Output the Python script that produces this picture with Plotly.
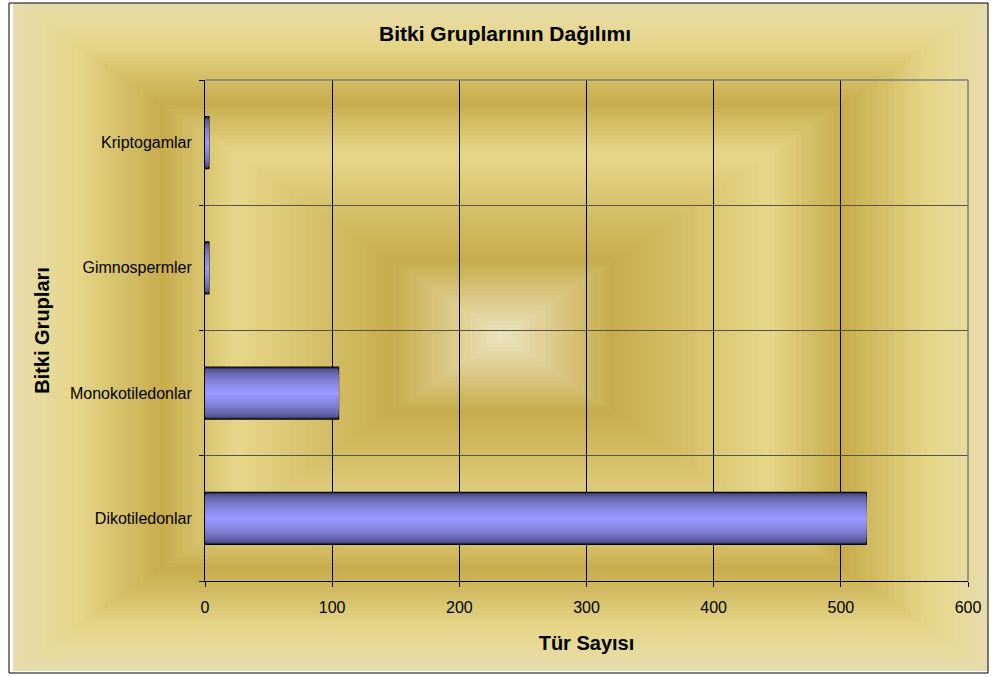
import plotly.graph_objects as go

# data
groups = ["Dikotiledonlar", "Monokotiledonlar", "Gimnospermler", "Kriptogamlar"]
species_counts = [520, 105, 3, 3]
x_ticks = [0, 100, 200, 300, 400, 500, 600]

W, H = 992, 677
L, R, T, B = 205, 24, 80, 96
PW, PH = W - L - R, H - T - B

FONT = "Liberation Sans, Arial, sans-serif"


def hex_rgb(h):
    h = h.lstrip("#")
    return tuple(int(h[i:i + 2], 16) for i in (0, 2, 4))


def blend(stops, f):
    # stops: list of (pos, hex) sorted by pos
    for (p0, c0), (p1, c1) in zip(stops, stops[1:]):
        if p0 <= f <= p1:
            k = 0 if p1 == p0 else (f - p0) / (p1 - p0)
            a, b = hex_rgb(c0), hex_rgb(c1)
            return "rgb(%d,%d,%d)" % tuple(round(a[i] + (b[i] - a[i]) * k) for i in range(3))
    return "rgb(%d,%d,%d)" % hex_rgb(stops[-1][1])


def px_x(px):
    return (px - L) / PW


def px_y(py):
    return (H - B - py) / PH


# Excel "Gold" preset, rectangular from center (0 = center, 1 = edge)
gold = [(0.0, "#EEE6C4"), (0.23, "#C7AC4C"), (0.55, "#E6D78A"),
        (0.70, "#C7AC4C"), (0.88, "#E6D78A"), (1.0, "#E6DCAC")]

fx0, fy0, fx1, fy1 = 9, 3, 988, 673
cx, cy = (fx0 + fx1) / 2 + 4, (fy0 + fy1) / 2 - 2
hw, hh = (fx1 - fx0) / 2, (fy1 - fy0) / 2

shapes = []
n_rings = 90
for k in range(n_rings):
    f = 1 - k / n_rings
    x0, x1 = max(cx - hw * f, fx0), min(cx + hw * f, fx1)
    y0, y1 = max(cy - hh * f, fy0), min(cy + hh * f, fy1)
    shapes.append(dict(type="rect", xref="paper", yref="paper", layer="below",
                       x0=px_x(x0), x1=px_x(x1), y0=px_y(y1), y1=px_y(y0),
                       fillcolor=blend(gold, f), line=dict(width=0)))
# chart frame
shapes.append(dict(type="rect", xref="paper", yref="paper", layer="above",
                   x0=px_x(fx0), x1=px_x(fx1), y0=px_y(fy1), y1=px_y(fy0),
                   line=dict(color="#000000", width=1), fillcolor="rgba(0,0,0,0)"))
# plot area border (top and right, grey)
shapes.append(dict(type="line", xref="paper", yref="paper", layer="above",
                   x0=0, x1=1, y0=1, y1=1, line=dict(color="#808080", width=1.5)))
shapes.append(dict(type="line", xref="paper", yref="paper", layer="above",
                   x0=1, x1=1, y0=0, y1=1, line=dict(color="#808080", width=1.5)))

fig = go.Figure()

# bars with a horizontal shading: stacked overlays, dark edge -> light middle
bar_w = 0.415
dark, light = hex_rgb("#3A3A68"), hex_rgb("#9999FF")
n_layers = 14
for j in range(n_layers):
    s = j / (n_layers - 1)
    k = s ** 0.5
    col = "rgb(%d,%d,%d)" % tuple(round(dark[i] + (light[i] - dark[i]) * k) for i in range(3))
    fig.add_bar(y=groups, x=species_counts, orientation="h",
                width=bar_w * (1 - s * 0.93),
                marker=dict(color=col,
                            line=dict(color="#000000", width=1.3 if j == 0 else 0)),
                showlegend=False, hoverinfo="x+y")

fig.update_layout(
    width=W, height=H,
    margin=dict(l=L, r=R, t=T, b=B),
    paper_bgcolor="white",
    plot_bgcolor="rgba(0,0,0,0)",
    barmode="overlay",
    shapes=shapes,
    font=dict(family=FONT, color="#000000", size=16),
    title=dict(text="Bitki Gruplarının Dağılımı", x=505 / W, xref="container",
               xanchor="center", y=1 - 34 / H, yref="container", yanchor="middle",
               font=dict(family=FONT, size=21, weight="bold", color="#000000")),
    xaxis=dict(range=[0, 600], tickvals=x_ticks, ticks="outside", ticklen=5,
               tickcolor="#000000", showline=True, linecolor="#000000", linewidth=1,
               showgrid=True, gridcolor="#000000", gridwidth=1, zeroline=False,
               ticklabelstandoff=7,
               tickfont=dict(family=FONT, size=16, color="#000000"),
               title=dict(text="Tür Sayısı", standoff=20,
                          font=dict(family=FONT, size=20, weight="bold", color="#000000"))),
    yaxis=dict(type="category", categoryorder="array", categoryarray=groups,
               tickson="boundaries", ticks="outside", ticklen=5, tickcolor="#000000",
               showline=True, linecolor="#000000", linewidth=1,
               showgrid=True, gridcolor="#5A5442", gridwidth=1,
               ticklabelstandoff=9,
               tickfont=dict(family=FONT, size=16, color="#000000"),
               title=dict(text="Bitki Grupları", standoff=14,
                          font=dict(family=FONT, size=20, weight="bold", color="#000000"))),
)

fig.write_html("out.html", config={"displayModeBar": False},
               post_script="document.body.style.margin='0';")
